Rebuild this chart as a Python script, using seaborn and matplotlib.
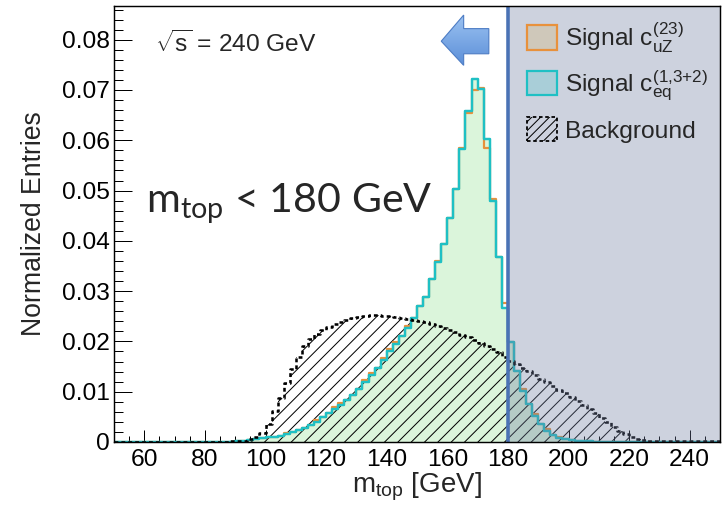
import numpy as np
import pandas as pd
import seaborn as sns
import matplotlib
matplotlib.use("Agg")
import matplotlib.pyplot as plt
from matplotlib.patches import Patch, Polygon
from matplotlib.colors import LinearSegmentedColormap
from matplotlib.ticker import MultipleLocator, FuncFormatter

# ---- binning: 2 GeV bins from 50 to 250 GeV ----
bin_width = 2
bin_low = 50
n_bins = 100

# Signal c_uZ^(23), normalized entries per bin
signal_uz = [
    0, 0, 0, 0, 0, 0, 0, 0, 0, 0, 0, 0, 0, 0, 0, 0, 0, 0, 0, 0,          # 50-88
    0.0001, 0.0002, 0.0003, 0.0005, 0.0007,                              # 90-98
    0.0009, 0.0010, 0.0012, 0.0018, 0.0019,                              # 100-108
    0.0024, 0.0028, 0.0034, 0.0044, 0.0049,                              # 110-118
    0.0057, 0.0069, 0.0078, 0.0084, 0.0094,                              # 120-128
    0.0106, 0.0124, 0.0138, 0.0148, 0.0167,                              # 130-138
    0.0184, 0.0199, 0.0210, 0.0230, 0.0247,                              # 140-148
    0.0271, 0.0289, 0.0325, 0.0360, 0.0394,                              # 150-158
    0.0446, 0.0504, 0.0585, 0.0655, 0.0699,                              # 160-168
    0.0703, 0.0584, 0.0484, 0.0367, 0.0277,                              # 170-178
    0.0199, 0.0141, 0.0106, 0.0076, 0.0056,                              # 180-188
    0.0036, 0.0025, 0.0014, 0.0010, 0.0005,                              # 190-198
    0.0003, 0.0002, 0.0001, 0.0001,                                      # 200-206
    0, 0, 0, 0, 0, 0, 0, 0, 0, 0, 0, 0, 0, 0, 0, 0, 0, 0, 0, 0, 0,       # 208-248
]

# Signal c_eq^(1,3+2)
signal_eq = [
    0, 0, 0, 0, 0, 0, 0, 0, 0, 0, 0, 0, 0, 0, 0, 0, 0, 0, 0, 0,
    0.0001, 0.0002, 0.0003, 0.0005, 0.0007,
    0.0009, 0.0010, 0.0012, 0.0016, 0.0019,
    0.0024, 0.0028, 0.0034, 0.0040, 0.0049,
    0.0057, 0.0066, 0.0074, 0.0084, 0.0094,
    0.0106, 0.0120, 0.0134, 0.0148, 0.0163,
    0.0180, 0.0195, 0.0210, 0.0226, 0.0247,
    0.0271, 0.0289, 0.0325, 0.0357, 0.0394,
    0.0446, 0.0504, 0.0582, 0.0659, 0.0721,
    0.0701, 0.0602, 0.0479, 0.0367, 0.0267,
    0.0199, 0.0141, 0.0102, 0.0076, 0.0052,
    0.0036, 0.0022, 0.0014, 0.0008, 0.0005,
    0.0003, 0.0002, 0.0001, 0.0001,
    0, 0, 0, 0, 0, 0, 0, 0, 0, 0, 0, 0, 0, 0, 0, 0, 0, 0, 0, 0, 0,
]

# Background
background = [
    0, 0, 0, 0, 0, 0, 0, 0, 0, 0, 0, 0, 0, 0, 0, 0, 0, 0, 0,             # 50-86
    0.0001, 0.0001, 0.0002, 0.0005, 0.0010, 0.0018,                      # 88-98
    0.0035, 0.0062, 0.0088, 0.0118, 0.0146,                              # 100-108
    0.0170, 0.0190, 0.0204, 0.0215, 0.0223,                              # 110-118
    0.0229, 0.0234, 0.0239, 0.0243, 0.0247,                              # 120-128
    0.0249, 0.0251, 0.0252, 0.0252, 0.0251,                              # 130-138
    0.0250, 0.0248, 0.0246, 0.0245, 0.0243,                              # 140-148
    0.0241, 0.0238, 0.0235, 0.0231, 0.0227,                              # 150-158
    0.0223, 0.0218, 0.0213, 0.0208, 0.0203,                              # 160-168
    0.0197, 0.0191, 0.0185, 0.0178, 0.0170,                              # 170-178
    0.0162, 0.0155, 0.0148, 0.0141, 0.0134,                              # 180-188
    0.0126, 0.0119, 0.0111, 0.0104, 0.0097,                              # 190-198
    0.0090, 0.0082, 0.0074, 0.0066, 0.0057,                              # 200-208
    0.0048, 0.0039, 0.0030, 0.0022, 0.0015,                              # 210-218
    0.0009, 0.0005, 0.0003, 0.0002, 0.0002,                              # 220-228
    0.0001, 0.0001, 0.0001, 0.0001, 0.0001,                              # 230-238
    0.0001, 0.0001, 0.0001, 0.0001, 0.0001,                              # 240-248
]

x_tick_labels = [60, 80, 100, 120, 140, 160, 180, 200, 220, 240]
y_tick_values = [0, 0.01, 0.02, 0.03, 0.04, 0.05, 0.06, 0.07, 0.08]
mass_cut = 180

edges = bin_low + bin_width * np.arange(n_bins + 1)
centers = 0.5 * (edges[:-1] + edges[1:])
df = pd.DataFrame({"m": centers, "uz": signal_uz, "eq": signal_eq, "bkg": background})
hist_bins = dict(binwidth=bin_width, binrange=(edges[0], edges[-1]))

# ---- style ----
sns.set_style("ticks")
plt.rcParams["font.family"] = ["Liberation Sans", "DejaVu Sans"]
plt.rcParams["mathtext.fontset"] = "custom"
plt.rcParams["mathtext.rm"] = "Liberation Sans"
plt.rcParams["mathtext.it"] = "Liberation Sans"
plt.rcParams["hatch.linewidth"] = 0.9
plt.rcParams["hatch.color"] = "black"

c_orange = "#e8913c"
c_cyan = "#1fc0c4"
c_green = "#dbf5db"
c_cut = "#4a72b5"

DPI = 80
fig = plt.figure(figsize=(726 / DPI, 505 / DPI), dpi=DPI)
ax = fig.add_axes([114 / 726, 1 - 442 / 505, (720 - 114) / 726, (442 - 6) / 505])

# light green fill beneath the signal
sns.histplot(data=df, x="m", weights="eq", **hist_bins, element="step", fill=True,
             color=c_green, alpha=1, linewidth=0, ax=ax)
# hatched background area
sns.histplot(data=df, x="m", weights="bkg", **hist_bins, element="step", fill=True,
             color="black", linewidth=0, ax=ax)
bkg_fill = ax.collections[-1]
bkg_fill.set_facecolor("none")
bkg_fill.set_edgecolor("black")
bkg_fill.set_linewidth(0)
bkg_fill.set_hatch("//")

# histogram outlines
sns.histplot(data=df, x="m", weights="uz", **hist_bins, element="step", fill=False,
             color=c_orange, linewidth=2.0, ax=ax)
sns.histplot(data=df, x="m", weights="eq", **hist_bins, element="step", fill=False,
             color=c_cyan, linewidth=2.2, ax=ax)
sns.histplot(data=df, x="m", weights="bkg", **hist_bins, element="step", fill=False,
             color="black", linewidth=2.3, linestyle=(0, (1.5, 1.2)), ax=ax)

# excluded region above the cut
ax.axvspan(mass_cut, 250, color="#707ea1", alpha=0.35, linewidth=0, zorder=5)
ax.axvline(mass_cut, color=c_cut, linewidth=3.2, zorder=6)

# arrow pointing to the selected side, with a soft vertical shading
arrow_x0, arrow_x1 = 158.0, 173.7
arrow_y0, arrow_y1 = 0.0749, 0.0849
arrow = Polygon([(arrow_x0, 0.0797), (165.4, arrow_y1), (165.4, 0.0822), (arrow_x1, 0.0822),
                 (arrow_x1, 0.0772), (165.4, 0.0772), (165.4, arrow_y0)],
                closed=True, facecolor="none", edgecolor="#4d7cc4", linewidth=1.0,
                zorder=8)
ax.add_patch(arrow)
shade = LinearSegmentedColormap.from_list("arrow_shade", ["#5c8fd8", "#9cc3f2"])
grad = np.linspace(0, 1, 64).reshape(-1, 1)
img = ax.imshow(grad, cmap=shade, origin="lower", aspect="auto", zorder=7,
                extent=(arrow_x0, arrow_x1, arrow_y0, arrow_y1), interpolation="bilinear")
img.set_clip_path(arrow)

ax.set_xlim(50, 250)
ax.set_ylim(0, 0.0867)

ax.set_xticks(x_tick_labels)
ax.xaxis.set_minor_locator(MultipleLocator(5))
ax.set_yticks(y_tick_values)
ax.yaxis.set_minor_locator(MultipleLocator(0.002))
ax.yaxis.set_major_formatter(FuncFormatter(lambda v, p: "0" if abs(v) < 1e-9 else f"{v:.2f}"))

ax.tick_params(axis="both", which="both", direction="in", top=False, right=False,
               colors="black", labelsize=22, width=0.9)
ax.tick_params(axis="y", which="major", length=16, pad=4)
ax.tick_params(axis="y", which="minor", length=8)
ax.tick_params(axis="x", which="major", length=11, pad=6)
ax.tick_params(axis="x", which="minor", length=5.5)
for s in ax.spines.values():
    s.set_linewidth(1.3)
    s.set_color("black")
    s.set_visible(True)
    s.set_zorder(10)

ax.set_xlabel(r"$\mathregular{m_{top}}$ [GeV]", fontsize=25, labelpad=0)
ax.set_ylabel("Normalized Entries", fontsize=24, labelpad=13)

ax.text(63.4, 0.0775, r"$\mathregular{\sqrt{s}}$ = 240 GeV", fontsize=22,
        ha="left", va="baseline", zorder=8)
ax.text(60.5, 0.0456, r"$\mathregular{m_{top}}$ < 180 GeV", fontsize=37,
        family=["Lato", "DejaVu Sans"], ha="left", va="baseline", zorder=8)

handles = [
    Patch(facecolor="#cfc8ba", edgecolor=c_orange, linewidth=2.0),
    Patch(facecolor="#a9ced8", edgecolor=c_cyan, linewidth=2.0),
    Patch(facecolor="none", edgecolor="black", linewidth=1.6, linestyle=(0, (2, 1.5)),
          hatch="///"),
]
labels = [r"Signal $\mathregular{c^{(23)}_{uZ}}$",
          r"Signal $\mathregular{c^{(1{,}3{+}2)}_{eq}}$",
          "Background"]
leg = ax.legend(handles, labels, loc="upper left", bbox_to_anchor=(0.681, 0.968),
                frameon=False, fontsize=22, borderpad=0, borderaxespad=0,
                handlelength=1.25, handleheight=1.15, handletextpad=0.3,
                labelspacing=0.58)
leg.set_zorder(12)

fig.savefig("out.png", dpi=DPI)
